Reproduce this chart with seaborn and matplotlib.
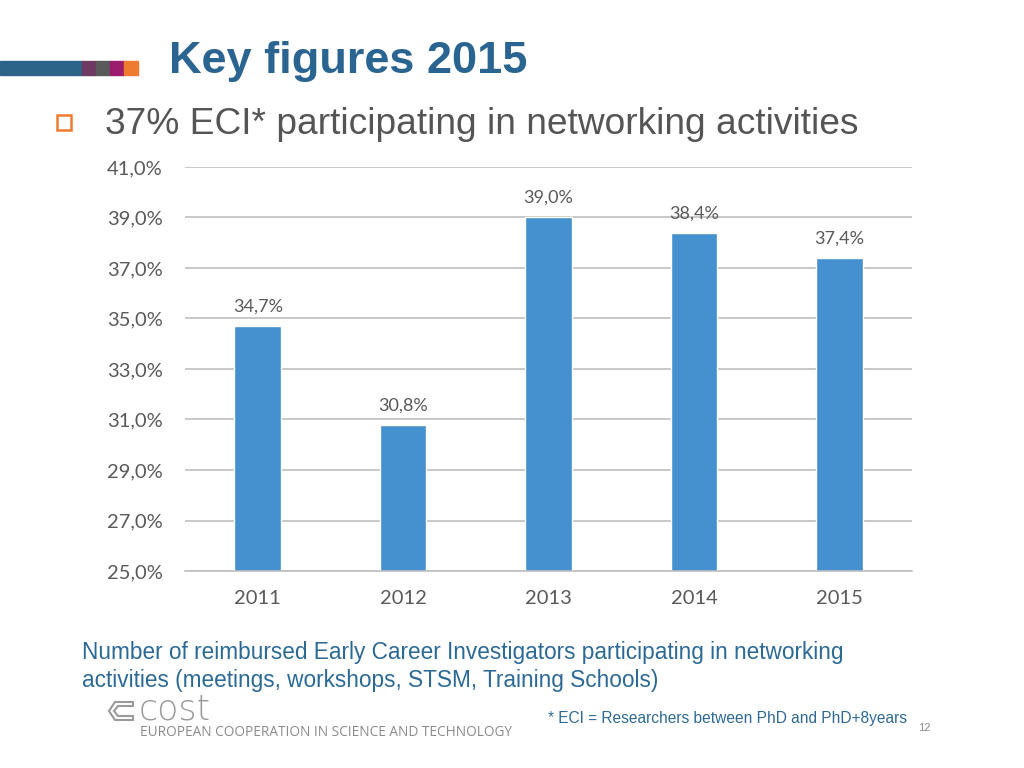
import matplotlib
matplotlib.use("Agg")
import matplotlib.pyplot as plt
import seaborn as sns
import pandas as pd
from matplotlib.patches import Rectangle, Polygon

# chart data
years = ["2011", "2012", "2013", "2014", "2015"]
share = [34.7, 30.8, 39.0, 38.4, 37.4]
y_ticks = [25, 27, 29, 31, 33, 35, 37, 39, 41]

df = pd.DataFrame({"year": years, "share": share})

sns.set_theme(style="white")
plt.rcParams["font.family"] = ["Open Sans", "DejaVu Sans"]

fig = plt.figure(figsize=(10.24, 7.68), dpi=100)
ax = fig.add_axes([0.1807, 0.2565, 0.710, 0.5261])

sns.barplot(data=df, x="year", y="share", order=years, color="#4590CE",
            width=0.32, saturation=1, ax=ax)

ax.set_ylim(25, 41)
ax.set_yticks(y_ticks)
ax.set_yticklabels([f"{t:.1f}%".replace(".", ",") for t in y_ticks])
ax.set_xlim(-0.5, 4.5)
ax.yaxis.grid(True, color="#BFBFBF", linewidth=1.2)
ax.set_axisbelow(True)
for s in ["top", "right", "left"]:
    ax.spines[s].set_visible(False)
ax.spines["bottom"].set_color("#BFBFBF")
ax.spines["bottom"].set_linewidth(1.2)
ax.tick_params(axis="y", length=0, pad=16, labelsize=14.5, labelcolor="#595959")
ax.tick_params(axis="x", length=0, pad=14, labelsize=14.5, labelcolor="#595959")
for lab in ax.get_xticklabels() + ax.get_yticklabels():
    lab.set_family("Lato")
ax.set_xlabel("")
ax.set_ylabel("")

for i, v in enumerate(share):
    ax.text(i, v + 0.45, f"{v:.1f}%".replace(".", ","), ha="center", va="bottom",
            fontsize=13, color="#595959", family="Lato")

# header decoration
fig.patches.append(Rectangle((0, 1 - 75 / 768), 82 / 1024, 14 / 768,
                             transform=fig.transFigure, color="#2C6388"))
for x0, c in [(82, "#6E3A62"), (96, "#5A5A5A"), (110, "#9C1C6E"), (124, "#EE7B30")]:
    fig.patches.append(Rectangle((x0 / 1024, 1 - 75 / 768), 14 / 1024, 14 / 768,
                                 transform=fig.transFigure, color=c))

fig.text(169 / 1024, 1 - 62 / 768, "Key figures 2015", fontsize=32.5, fontweight="bold",
         color="#2A6490", va="center", family="Liberation Sans")

# bullet
fig.patches.append(Rectangle((57 / 1024, 1 - 130 / 768), 14 / 1024, 15 / 768,
                             transform=fig.transFigure, fill=False,
                             edgecolor="#EE7B30", linewidth=1.8))
fig.text(105 / 1024, 1 - 124 / 768, "37% ECI* participating in networking activities",
         fontsize=26.7, color="#555555", va="center", family="Liberation Sans")

fig.text(82 / 1024, 1 - 653 / 768,
         "Number of reimbursed Early Career Investigators participating in networking",
         fontsize=16.3, color="#2C6A96", va="center", family="Liberation Sans")
fig.text(82 / 1024, 1 - 680 / 768,
         "activities (meetings, workshops, STSM, Training Schools)",
         fontsize=16.3, color="#2C6A96", va="center", family="Liberation Sans")

# logo
hexa = [(109, 711), (115, 702), (133, 702), (133, 706), (118, 706), (114, 711),
        (118, 716), (133, 716), (133, 720), (115, 720)]
fig.patches.append(Polygon([(x / 1024, 1 - y / 768) for x, y in hexa], closed=True,
                           transform=fig.transFigure, fill=False,
                           edgecolor="#9A9A9A", linewidth=1.5))
fig.text(139 / 1024, 1 - 709 / 768, "cost", fontsize=25, color="#9A9A9A",
         va="center", family="DejaVu Sans", fontweight="light")
fig.text(140 / 1024, 1 - 733 / 768, "EUROPEAN COOPERATION IN SCIENCE AND TECHNOLOGY",
         fontsize=9.8, color="#8A8A8A", va="center", family="Open Sans")

fig.text(548 / 1024, 1 - 718 / 768, "* ECI = Researchers between PhD and PhD+8years",
         fontsize=11.2, color="#2E6A94", va="center", family="Liberation Sans")
fig.text(918 / 1024, 1 - 728 / 768, "12", fontsize=8, color="#888888", va="center",
         family="Liberation Sans")

fig.savefig("out.png", dpi=100)
